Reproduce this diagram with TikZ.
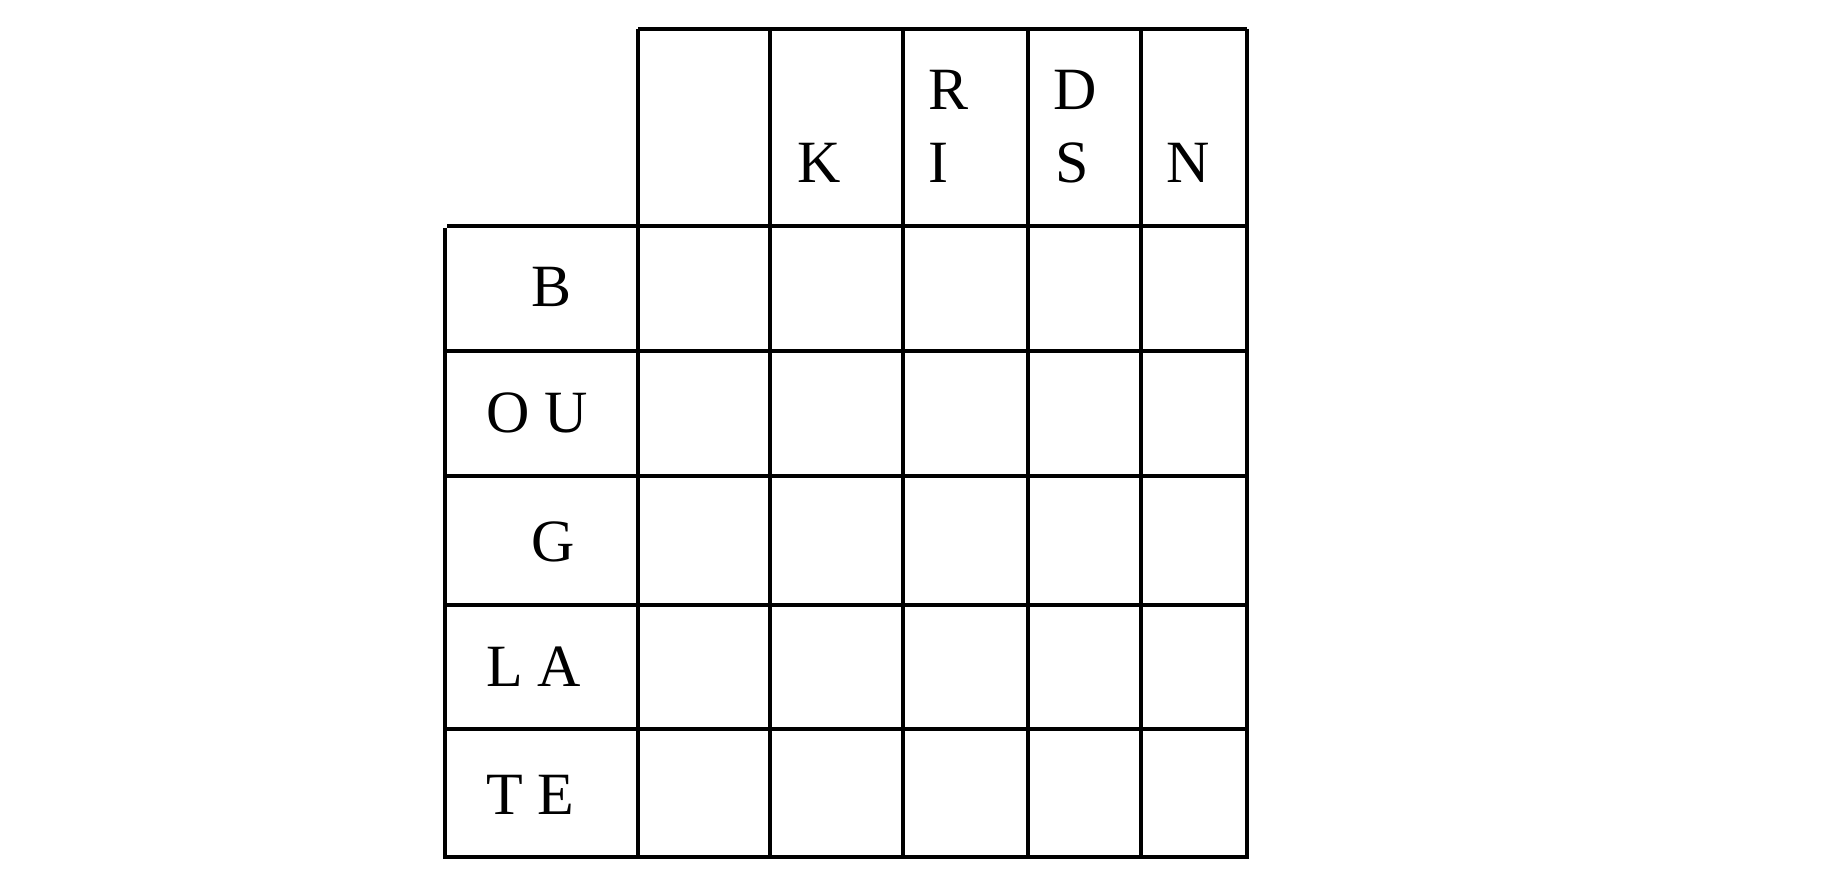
\documentclass[tikz,border=0pt]{standalone}
\usepackage{fontspec}
\setmainfont{Liberation Serif}
\begin{document}
\begin{tikzpicture}[x=0.5pt,y=-0.5pt,
  gridline/.style={line width=1.65pt,black},
  lbl/.style={anchor=base west,inner sep=0pt,outer sep=0pt,font=\fontsize{30}{36}\selectfont}]
\useasboundingbox (0,0) rectangle (1834,892);
% horizontal lines
\draw[gridline] (638,29) -- (1247,29);
\draw[gridline] (447,226) -- (1247,226);
\foreach \y in {351,476,605,729,857}
  \draw[gridline] (445,\y) -- (1247,\y);
% vertical lines
\draw[gridline] (445,228) -- (445,859);
\foreach \x in {638,770,903,1028,1141,1247}
  \draw[gridline] (\x,29) -- (\x,859);
% column headers
\node[lbl] (k) at (797,183) {K};
\node[lbl] (r) at (928,110) {R};
\node[lbl] (i) at (928,183) {I};
\node[lbl] (d) at (1053,110) {D};
\node[lbl] (s) at (1055,183) {S};
\node[lbl] (n) at (1166,183) {N};
% row headers
\node[lbl] (b) at (531,307) {B};
\node[lbl] (ou) at (486,433) {O U};
\node[lbl] (g) at (531,561) {G};
\node[lbl] (la) at (486,686) {L A};
\node[lbl] (te) at (486,814) {T E};
\end{tikzpicture}
\end{document}
